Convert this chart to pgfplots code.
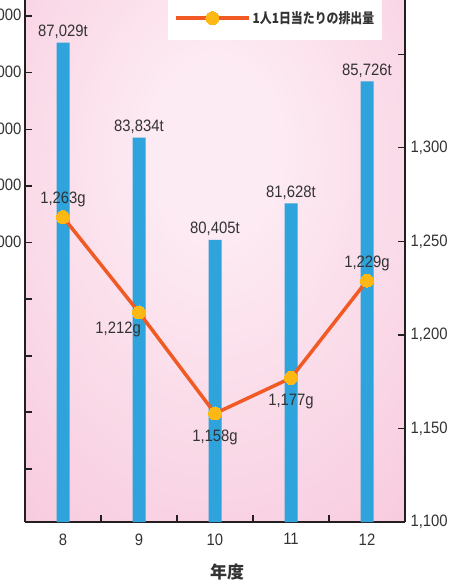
\documentclass[border=0pt]{standalone}
\usepackage{fontspec}
\setmainfont{Liberation Sans}[FakeStretch=0.9]
\newfontfamily\cjk{Noto Sans CJK JP}
\newfontfamily\cjkn{Noto Sans CJK JP}[FakeStretch=0.85]
\usepackage{pgfplots}
\pgfplotsset{compat=1.18}
\definecolor{barblue}{HTML}{2FA3DB}
\definecolor{lineorange}{HTML}{F15A24}
\definecolor{dotyellow}{HTML}{FDB813}
\definecolor{pinkin}{HTML}{FDEBF3}
\definecolor{pinkout}{HTML}{F4B8D2}
\definecolor{axisgray}{HTML}{231F20}
\definecolor{txt}{HTML}{333333}
\pgfdeclareradialshading{pinkbg}{\pgfpoint{0bp}{12bp}}{color(0bp)=(pinkin); color(8bp)=(pinkin); color(60bp)=(pinkout); color(90bp)=(pinkout)}
\newcommand{\lbl}{\fontsize{16.5}{18}\selectfont}
\begin{document}
\begin{tikzpicture}
\begin{axis}[
  at={(25pt,-522pt)}, anchor=south west,
  scale only axis, width=380pt, height=522pt,
  xmin=7.5, xmax=12.5,
  ymin=70935, ymax=88457,
  axis x line*=bottom, axis y line*=left,
  axis line style={line width=1.6pt, draw=axisgray, -},
  axis background/.style={shade, shading=pinkbg},
  tick align=inside,
  major tick length=7pt, minor tick length=7pt,
  tick style={line width=1.2pt, draw=axisgray},
  xtick={8,9,10,11,12},
  major x tick style={draw=none},
  minor xtick={8.5,9.5,10.5,11.5},
  ytick={72714,74627,76507,78420,80310,82214,84117,86017,87920},
  yticklabels={,,,,{80,000},{82,000},{84,000},{86,000},{88,000}},
  /pgf/number format/assume math mode=true,
  ticklabel style={font=\lbl, text=txt},
  xticklabel style={yshift=-8pt},
  xlabel={\cjk\bfseries 年度},
  xlabel style={font=\fontsize{17}{19}\selectfont, text=txt, xshift=12pt, yshift=-12pt},
]
\addplot[ybar, bar width=13pt, bar shift=0pt, fill=barblue, draw=none,
  nodes near coords, point meta=explicit symbolic,
  every node near coord/.style={font=\lbl, text=txt, anchor=south, inner sep=1pt, yshift=3pt}]
  coordinates {(8,87029)[87,029t] (9,83834)[83,834t] (10,80405)[80,405t] (11,81628)[81,628t] (12,85726)[85,726t]};
\end{axis}
\begin{axis}[
  at={(25pt,-522pt)}, anchor=south west,
  scale only axis, width=380pt, height=522pt,
  xmin=7.5, xmax=12.5,
  ymin=1100, ymax=1379,
  axis y line*=right, axis x line=none,
  axis line style={line width=1.6pt, draw=axisgray, -},
  tick align=inside,
  major tick length=7pt,
  tick style={line width=1.2pt, draw=axisgray},
  ytick={1100,1150,1200,1250,1300},
  extra y ticks={1350}, extra y tick labels={},
  /pgf/number format/assume math mode=true,
  yticklabel style={font=\lbl, text=txt, /pgf/number format/1000 sep={,}, xshift=2pt},
  legend style={at={(0.3763,0.9234)}, anchor=south west, draw=none, fill=white,
    inner xsep=6pt, inner ysep=13pt, font=\cjkn\bfseries\fontsize{14}{16}\selectfont, text=txt},
  legend image code/.code={\draw[#1, mark=none] (0pt,0pt) -- (73pt,0pt); \draw[#1] plot coordinates {(36.5pt,0pt)};},
]
\addplot[line width=3.5pt, color=lineorange, mark=*, mark size=6.5pt, mark options={fill=dotyellow, draw=dotyellow, line width=0pt}]
  coordinates {(8,1263) (9,1212) (10,1158) (11,1177) (12,1229)};
\addlegendentry{1人1日当たりの排出量}
\addplot[draw=none, mark=none, forget plot, nodes near coords, point meta=explicit symbolic,
  every node near coord/.style={font=\lbl, text=txt, anchor=south, inner sep=1pt, yshift=9pt}]
  coordinates {(8,1263)[1,263g] (12,1229)[1,229g]};
\addplot[draw=none, mark=none, forget plot, nodes near coords, point meta=explicit symbolic,
  every node near coord/.style={font=\lbl, text=txt, anchor=north, inner sep=1pt, yshift=-15pt}]
  coordinates {(10,1158)[1,158g] (11,1177)[1,177g]};
\addplot[draw=none, mark=none, forget plot, nodes near coords, point meta=explicit symbolic,
  every node near coord/.style={font=\lbl, text=txt, anchor=north east, inner sep=1pt, yshift=-8pt, xshift=3pt}]
  coordinates {(9,1212)[1,212g]};
\end{axis}
\pgfresetboundingbox
\useasboundingbox (0pt,0pt) rectangle (467pt,-586pt);
\end{tikzpicture}
\end{document}
